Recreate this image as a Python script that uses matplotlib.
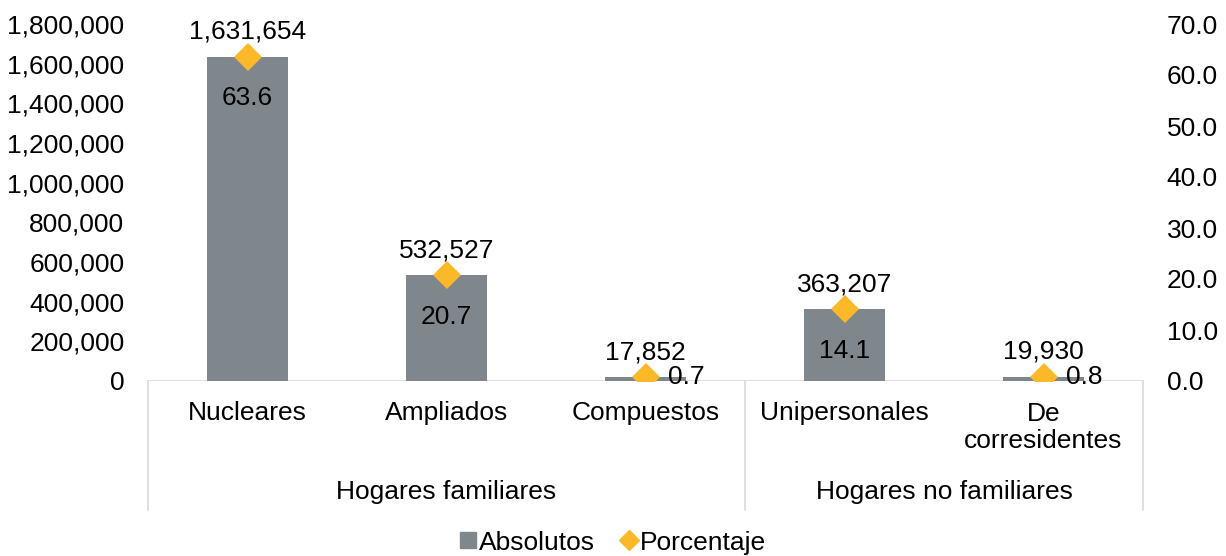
import numpy as np
import matplotlib.pyplot as plt
from matplotlib.lines import Line2D
from matplotlib.ticker import FuncFormatter

plt.rcParams['font.family'] = ['Liberation Sans', 'DejaVu Sans']

# datos
categorias = ['Nucleares', 'Ampliados', 'Compuestos', 'Unipersonales', 'De\ncorresidentes']
grupos = ['Hogares familiares', 'Hogares no familiares']
grupo_limites = [(-0.5, 2.5), (2.5, 4.5)]
absolutos = [1631654, 532527, 17852, 363207, 19930]
porcentaje = [63.6, 20.7, 0.7, 14.1, 0.8]

gris = '#7f878c'
oro = '#fbb829'
linea = '#d9d9d9'
fs = 19

fig = plt.figure(figsize=(12.26, 5.56), dpi=100)
ax = fig.add_axes([148 / 1226, 1 - 381 / 556, (1143 - 148) / 1226, 357 / 556])
ax2 = ax.twinx()

x = np.arange(len(categorias))
ax.bar(x, absolutos, width=0.41, color=gris, zorder=2)
ax2.plot(x, porcentaje, linestyle='none', marker='D', markersize=14,
         color=oro, markeredgewidth=0, zorder=3)

ax.set_xlim(-0.5, 4.5)
ax.set_ylim(0, 1800000)
ax2.set_ylim(0, 70)
ax.set_yticks(np.arange(0, 1800001, 200000))
ax2.set_yticks(np.arange(0, 71, 10))
ax.yaxis.set_major_formatter(FuncFormatter(lambda v, p: f'{v:,.0f}'))
ax2.yaxis.set_major_formatter(FuncFormatter(lambda v, p: f'{v:.1f}'))
ax.tick_params(axis='y', length=0, pad=17, labelsize=fs)
ax2.tick_params(axis='y', length=0, pad=17, labelsize=fs)
ax.set_xticks([])
for a in (ax, ax2):
    for s in a.spines.values():
        s.set_visible(False)

# eje de categorias
ax.axhline(0, color=linea, lw=1.2, zorder=1)
trans = ax.get_xaxis_transform()
for xs in [-0.5, 2.5, 4.5]:
    ax.plot([xs, xs], [0, -0.362], transform=trans, color=linea, lw=1.2, clip_on=False)
for i, c in enumerate(categorias):
    yy = -0.09 if '\n' not in c else -0.13
    ax.text(i, yy, c, transform=trans, ha='center', va='center', fontsize=fs,
            linespacing=1.12)
for g, (a, b) in zip(grupos, grupo_limites):
    ax.text((a + b) / 2, -0.31, g, transform=trans, ha='center', va='center', fontsize=fs)

# etiquetas
for i, (v, p) in enumerate(zip(absolutos, porcentaje)):
    ax2.annotate(f'{v:,}', (i, p), xytext=(0, 18), textcoords='offset points',
                 ha='center', va='center', fontsize=fs, zorder=4)
    if p > 5:
        ax2.annotate(f'{p:.1f}', (i, p), xytext=(0, -30), textcoords='offset points',
                     ha='center', va='center', fontsize=fs, zorder=4)
    else:
        ax2.annotate(f'{p:.1f}', (i, p), xytext=(16, 0), textcoords='offset points',
                     ha='left', va='center', fontsize=fs, zorder=4)

handles = [Line2D([], [], linestyle='none', marker='s', markersize=11, color=gris),
           Line2D([], [], linestyle='none', marker='D', markersize=10, color=oro)]
fig.legend(handles, ['Absolutos', 'Porcentaje'], loc='center', bbox_to_anchor=(0.5, 0.024),
           ncol=2, frameon=False, fontsize=fs, handlelength=0.6, handletextpad=0.1,
           columnspacing=1.0)

fig.savefig('out.png', dpi=100)
